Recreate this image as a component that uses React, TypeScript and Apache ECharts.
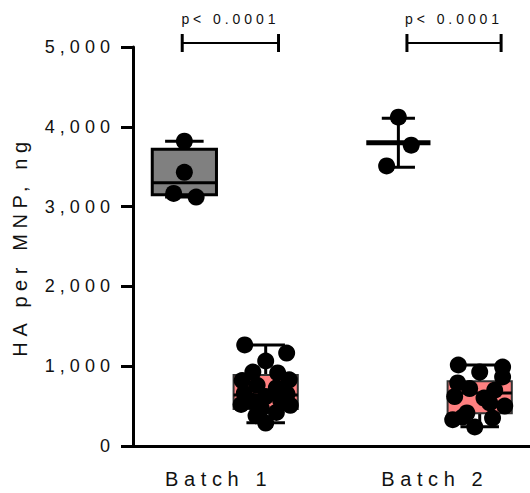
import React, { useEffect, useRef } from 'react';
import * as echarts from 'echarts';

// ---- categories & axis ----
const categories = ['Batch 1', 'Batch 2'];
const labelPositions = [0.97, 1.98];
const groupCenters = [1, 2];
const groupOffset = 0.19;

// ---- Batch 1, first group (gray box) ----
const gray1Values = [3820, 3430, 3165, 3120];
const gray1Jitter = [0, 0, -0.05, 0.055];
const gray1Box = [3120, 3150, 3300, 3720, 3820]; // min, q1, median, q3, max

// ---- Batch 1, second group (red box) ----
const red1Values = [1266, 1165, 1065, 927, 915, 820, 830, 760, 730, 660, 650, 620, 560, 570, 520, 510, 470, 420, 380, 288];
const red1Jitter = [-0.098, 0.098, 0, -0.06, 0.056, -0.11, 0.11, -0.04, 0.05, -0.1, 0.1, 0, -0.065, 0.07, -0.115, 0.115, -0.02, 0.05, -0.045, 0];
const red1Box = [290, 465, 640, 890, 1266];

// ---- Batch 2, first group (mean ± SD) ----
const black2Values = [4120, 3770, 3510];
const black2Jitter = [0, 0.06, -0.055];

// ---- Batch 2, second group (red box) ----
const red2Values = [1015, 990, 927, 790, 865, 720, 700, 620, 600, 540, 500, 414, 363, 350, 238, 330];
const red2Jitter = [-0.1, 0.107, 0, -0.103, 0.107, -0.047, 0.07, -0.117, 0.02, 0.047, 0.117, -0.06, -0.08, 0.06, -0.023, -0.126];
const red2Box = [240, 410, 665, 810, 1015];

// ---- significance annotations ----
const sigStart = [0.8, 1.85];
const sigEnd = [1.25, 2.29];
const sigLevel = [5050, 5050];
const sigLabels = ['p< 0.0001', 'p< 0.0001'];

const FONT = 'Liberation Sans, Arial, Helvetica, sans-serif';
const TEXT = '#111';

const makeBox = (fill: string, border: string, borderW: number) => (params: any, api: any) => {
  const x = api.value(0);
  const v = [1, 2, 3, 4, 5].map((i) => api.value(i));
  const w = api.size([0.3, 0])[0];
  const cw = api.size([0.18, 0])[0];
  const p = v.map((y) => api.coord([x, y]));
  const cx = p[0][0];
  const lineStyle = { stroke: '#000', lineWidth: 3 };
  return {
    type: 'group',
    children: [
      { type: 'line', shape: { x1: cx, y1: p[0][1], x2: cx, y2: p[1][1] }, style: lineStyle },
      { type: 'line', shape: { x1: cx, y1: p[3][1], x2: cx, y2: p[4][1] }, style: lineStyle },
      { type: 'line', shape: { x1: cx - cw / 2, y1: p[0][1], x2: cx + cw / 2, y2: p[0][1] }, style: lineStyle },
      { type: 'line', shape: { x1: cx - cw / 2, y1: p[4][1], x2: cx + cw / 2, y2: p[4][1] }, style: lineStyle },
      {
        type: 'rect',
        shape: { x: cx - w / 2, y: p[3][1], width: w, height: p[1][1] - p[3][1] },
        style: { fill, stroke: border, lineWidth: borderW },
      },
      { type: 'line', shape: { x1: cx - w / 2, y1: p[2][1], x2: cx + w / 2, y2: p[2][1] }, style: lineStyle },
    ],
  };
};

const meanSd = (vals: number[]) => {
  const m = vals.reduce((a, b) => a + b, 0) / vals.length;
  const sd = Math.sqrt(vals.reduce((a, b) => a + (b - m) * (b - m), 0) / (vals.length - 1));
  return [m - sd, m, m + sd];
};

const renderMeanSd = (params: any, api: any) => {
  const x = api.value(0);
  const lo = api.coord([x, api.value(1)]);
  const mid = api.coord([x, api.value(2)]);
  const hi = api.coord([x, api.value(3)]);
  const cx = lo[0];
  const cw = api.size([0.155, 0])[0];
  const mw = api.size([0.3, 0])[0];
  return {
    type: 'group',
    children: [
      { type: 'line', shape: { x1: cx, y1: lo[1], x2: cx, y2: hi[1] }, style: { stroke: '#000', lineWidth: 3 } },
      { type: 'line', shape: { x1: cx - cw / 2, y1: lo[1], x2: cx + cw / 2, y2: lo[1] }, style: { stroke: '#000', lineWidth: 3 } },
      { type: 'line', shape: { x1: cx - cw / 2, y1: hi[1], x2: cx + cw / 2, y2: hi[1] }, style: { stroke: '#000', lineWidth: 3 } },
      { type: 'line', shape: { x1: cx - mw / 2, y1: mid[1], x2: cx + mw / 2, y2: mid[1] }, style: { stroke: '#000', lineWidth: 5 } },
    ],
  };
};

const renderSig = (params: any, api: any) => {
  const a = api.coord([api.value(0), api.value(2)]);
  const b = api.coord([api.value(1), api.value(2)]);
  const idx = params.dataIndex;
  return {
    type: 'group',
    children: [
      { type: 'line', shape: { x1: a[0], y1: a[1], x2: b[0], y2: b[1] }, style: { stroke: '#000', lineWidth: 2 } },
      { type: 'line', shape: { x1: a[0], y1: a[1] - 9, x2: a[0], y2: a[1] + 9 }, style: { stroke: '#000', lineWidth: 3 } },
      { type: 'line', shape: { x1: b[0], y1: b[1] - 9, x2: b[0], y2: b[1] + 9 }, style: { stroke: '#000', lineWidth: 3 } },
      {
        type: 'text',
        x: (a[0] + b[0]) / 2,
        y: a[1] - 17,
        style: {
          text: sigLabels[idx],
          fontSize: 14,
          fontFamily: FONT,
          fill: TEXT,
          align: 'center',
          verticalAlign: 'bottom',
        },
      },
    ],
  };
};

const pts = (center: number, jitter: number[], values: number[]) =>
  values.map((v, i) => [center + jitter[i], v]);

export default function App() {
  const ref = useRef<HTMLDivElement>(null);
  useEffect(() => {
    if (!ref.current) return;
    const chart = echarts.init(ref.current, undefined, { renderer: 'svg' });
    const xG1 = groupCenters[0] - groupOffset;
    const xR1 = groupCenters[0] + groupOffset;
    const xB2 = groupCenters[1] - groupOffset;
    const xR2 = groupCenters[1] + groupOffset;
    const scatterBase = {
      type: 'scatter',
      symbol: 'circle',
      symbolSize: 17,
      itemStyle: { color: '#000', opacity: 1 },
      z: 5,
      silent: true,
    };
    chart.setOption({
      animation: false,
      backgroundColor: '#fff',
      grid: { left: 133, right: 0, top: 47, bottom: 47, containLabel: false },
      xAxis: {
        type: 'value',
        min: 0.57,
        max: 2.425,
        axisLine: { show: true, onZero: false, lineStyle: { color: '#000', width: 3 } },
        axisTick: { show: false },
        splitLine: { show: false },
        axisLabel: {
          customValues: labelPositions,
          formatter: (v: number) => {
            const i = labelPositions.findIndex((p) => Math.abs(p - v) < 1e-6);
            return i >= 0 ? categories[i] : '';
          },
          fontSize: 20,
          fontFamily: FONT,
          color: TEXT,
          margin: 23,
        },
      },
      yAxis: {
        type: 'value',
        min: 0,
        max: 5000,
        interval: 1000,
        name: 'HA per MNP, ng',
        nameLocation: 'middle',
        nameRotate: 90,
        nameGap: 103,
        nameTextStyle: { fontSize: 20, fontFamily: FONT, color: TEXT },
        axisLine: { show: true, onZero: false, lineStyle: { color: '#000', width: 3 } },
        axisTick: { show: true, length: 12, lineStyle: { color: '#000', width: 3 } },
        splitLine: { show: false },
        axisLabel: {
          formatter: (v: number) => v.toLocaleString('en-US'),
          fontSize: 18,
          fontFamily: FONT,
          color: TEXT,
          margin: 18,
        },
      },
      series: [
        { type: 'custom', renderItem: makeBox('#808080', '#000', 3), data: [[xG1, ...gray1Box]], z: 2, clip: false, silent: true },
        { type: 'custom', renderItem: makeBox('#ff8080', '#333', 2), data: [[xR1, ...red1Box], [xR2, ...red2Box]], z: 2, clip: false, silent: true },
        { type: 'custom', renderItem: renderMeanSd, data: [[xB2, ...meanSd(black2Values)]], z: 2, clip: false, silent: true },
        { ...scatterBase, data: pts(xG1, gray1Jitter, gray1Values) },
        { ...scatterBase, data: pts(xR1, red1Jitter, red1Values) },
        { ...scatterBase, data: pts(xB2, black2Jitter, black2Values) },
        { ...scatterBase, data: pts(xR2, red2Jitter, red2Values) },
        {
          type: 'custom',
          renderItem: renderSig,
          data: sigStart.map((s, i) => [s, sigEnd[i], sigLevel[i]]),
          z: 6,
          clip: false,
          silent: true,
        },
      ],
    });
    return () => chart.dispose();
  }, []);
  return (
    <>
      <style>{'#chart-root svg text{letter-spacing:0.28em}'}</style>
      <div
        id="chart-root"
        ref={ref}
        style={{ position: 'fixed', left: 0, top: 0, width: 530, height: 493, background: '#fff' }}
      />
    </>
  );
}
